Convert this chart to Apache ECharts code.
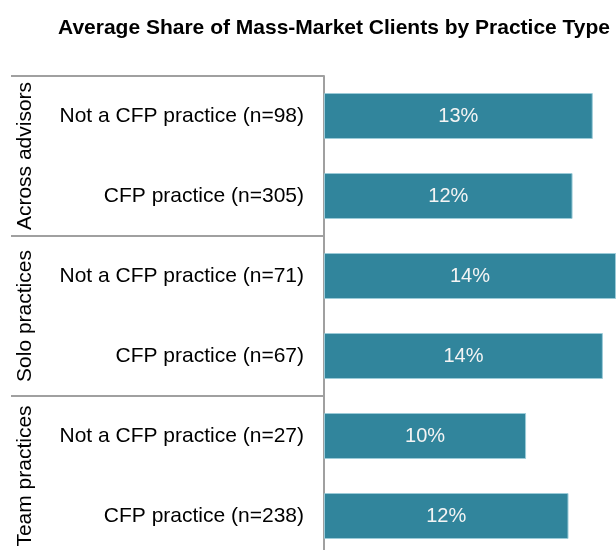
<!DOCTYPE html>
<html lang="en">
<head>
	<meta charset="utf-8">
	<title>Average Share of Mass-Market Clients by Practice Type</title>
	<script src="https://cdn.jsdelivr.net/npm/echarts@6/dist/echarts.min.js"></script>
	<style type="text/css">
		html, body {margin:0;padding:0;background:#fff;overflow:hidden}
		#chart {width:616px;height:556px}
	</style>
</head>
<body>
	<div id="chart"></div>
	<script>
		// chart data
		var groups = ["Across advisors", "Solo practices", "Team practices"];
		var categories = [
			"Not a CFP practice (n=98)",
			"CFP practice (n=305)",
			"Not a CFP practice (n=71)",
			"CFP practice (n=67)",
			"Not a CFP practice (n=27)",
			"CFP practice (n=238)"
		];
		var shares = [13.3, 12.3, 14.45, 13.8, 10.0, 12.1];

		var font = "Liberation Sans, Arial, sans-serif";
		var myChart = echarts.init(document.getElementById("chart"));

		var option = {
			animation: false,
			title: {
				text: "Average Share of Mass-Market Clients by Practice Type",
				left: 53,
				top: 13,
				textStyle: {
					fontFamily: font,
					fontSize: 21,
					fontWeight: "bold",
					color: "#000"
				}
			},
			grid: {
				left: 324,
				top: 76,
				right: 0,
				bottom: 0
			},
			xAxis: {
				type: "value",
				min: 0,
				max: 14.45,
				show: false
			},
			yAxis: [
				{
					type: "category",
					data: categories,
					inverse: true,
					axisLine: {lineStyle: {color: "#a0a0a0", width: 2}},
					axisTick: {
						show: true,
						// one separator per group of two rows
						interval: function (index) { return index % 2 === 0; },
						length: 313,
						lineStyle: {color: "#a0a0a0", width: 2}
					},
					axisLabel: {
						interval: 0,
						margin: 20,
						fontFamily: font,
						fontSize: 21,
						color: "#000"
					}
				},
				{
					type: "category",
					data: groups,
					inverse: true,
					position: "left",
					offset: 288,
					axisLine: {show: false},
					axisTick: {show: false},
					axisLabel: {
						interval: 0,
						rotate: 90,
						margin: 0,
						fontFamily: font,
						fontSize: 21,
						color: "#000"
					}
				}
			],
			series: [
				{
					type: "bar",
					yAxisIndex: 0,
					data: shares,
					barWidth: 46,
					itemStyle: {
						color: "#31859c",
						borderColor: "#9ccbd8",
						borderWidth: 1
					},
					label: {
						show: true,
						position: "inside",
						fontFamily: font,
						fontSize: 20,
						color: "#f4f4f4",
						formatter: function (p) {
							return Math.round(p.value) + "%";
						}
					}
				}
			]
		};

		myChart.setOption(option);
	</script>
</body>
</html>
